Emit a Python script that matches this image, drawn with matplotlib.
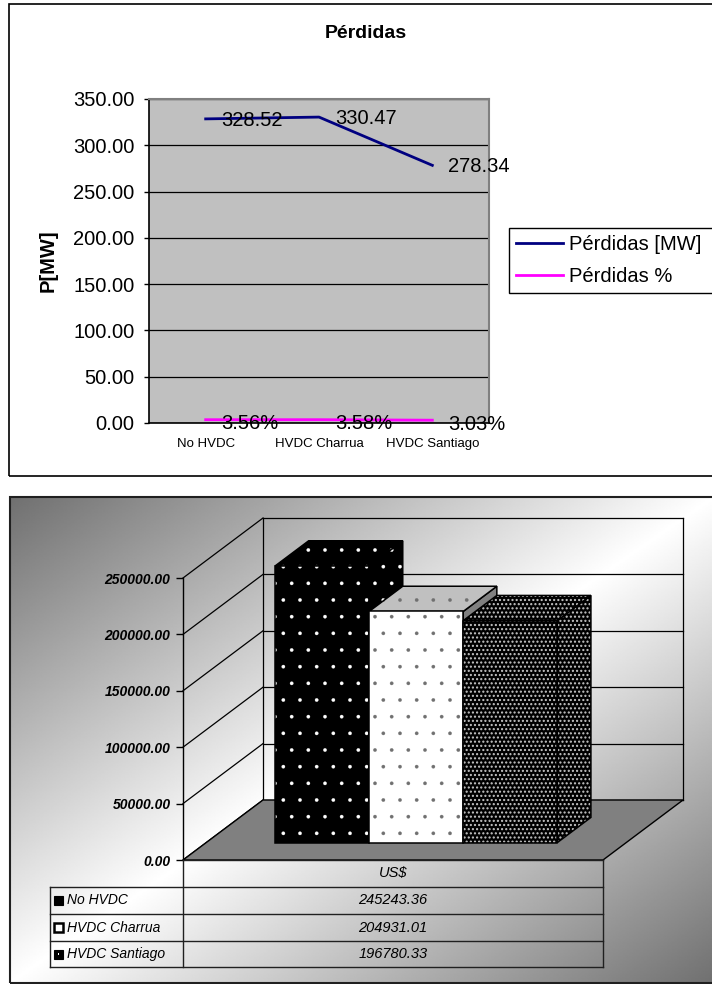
import numpy as np
import matplotlib
matplotlib.use("Agg")
import matplotlib.pyplot as plt
from matplotlib.patches import Rectangle, Polygon
from matplotlib.lines import Line2D
from matplotlib.ticker import FormatStrFormatter

plt.rcParams['font.family'] = ['Liberation Sans', 'DejaVu Sans']
plt.rcParams['hatch.linewidth'] = 0.3

# ---------------- data ----------------
categories = ["No HVDC", "HVDC Charrua", "HVDC Santiago"]
perdidas_mw = [328.52, 330.47, 278.34]
perdidas_pct = [3.56, 3.58, 3.03]
label_mw = "Pérdidas [MW]"
label_pct = "Pérdidas %"
top_title = "Pérdidas"
top_ylabel = "P[MW]"
top_yticks = [0, 50, 100, 150, 200, 250, 300, 350]

cost_series = ["No HVDC", "HVDC Charrua", "HVDC Santiago"]
cost_values = [245243.36, 204931.01, 196780.33]
cost_category = "US$"
bottom_yticks = [0, 50000, 100000, 150000, 200000, 250000]

# ---------------- figure ----------------
W, H = 712, 984
fig = plt.figure(figsize=(W / 100, H / 100), dpi=100)


def fx(x):
    return x / W


def fy(y):
    return 1 - y / H


def box(x0, y0, x1, y1):
    return [fx(x0), fy(y1), (x1 - x0) / W, (y1 - y0) / H]


# ================= TOP CHART =================
fig.add_artist(Rectangle((fx(9), fy(476)), (W + 10 - 9) / W, (476 - 4) / H,
                         transform=fig.transFigure, fill=False, ec='black', lw=1.2))
fig.text(fx(366), fy(34), top_title, ha='center', va='center',
         fontsize=14, fontweight='bold')

ax = fig.add_axes(box(149, 99, 489, 423))
ax.set_facecolor('#C0C0C0')
x = np.arange(len(categories))
ax.plot(x, perdidas_mw, color='#000080', lw=2, label=label_mw, clip_on=False, zorder=3)
ax.plot(x, perdidas_pct, color='#FF00FF', lw=2, label=label_pct, clip_on=False, zorder=3)
ax.set_xlim(-0.5, len(categories) - 0.5)
ax.set_ylim(0, 350)
ax.set_yticks(top_yticks)
ax.yaxis.set_major_formatter(FormatStrFormatter('%.2f'))
ax.set_xticks(x)
ax.set_xticklabels(categories, fontsize=9.5)
ax.tick_params(axis='x', length=0, pad=10.5)
ax.tick_params(axis='y', direction='out', length=3.6, width=1, pad=7, labelsize=14.5)
ax.grid(axis='y', color='black', lw=0.9)
ax.set_axisbelow(True)
for s in ['left', 'bottom']:
    ax.spines[s].set_color('black')
    ax.spines[s].set_linewidth(1.2)
for s in ['top', 'right']:
    ax.spines[s].set_color('#808080')
    ax.spines[s].set_linewidth(1.5)
ax.set_ylabel(top_ylabel, fontsize=14.5, fontweight='bold')
ax.yaxis.set_label_coords(-0.27, 0.5)

for xi, v in zip(x, perdidas_mw):
    ax.annotate(f"{v:.2f}", (xi, v), xytext=(11.5, -1), textcoords='offset points',
                ha='left', va='center', fontsize=14.5, annotation_clip=False, zorder=4)
for xi, v in zip(x, perdidas_pct):
    ax.annotate(f"{v:.2f}%", (xi, v), xytext=(11.5, -3), textcoords='offset points',
                ha='left', va='center', fontsize=14.5, annotation_clip=False, zorder=4)

handles, labels = ax.get_legend_handles_labels()
leg = fig.legend(handles, labels, loc='upper left',
                 bbox_to_anchor=(fx(509), fy(293), (740 - 509) / W, (293 - 228) / H),
                 mode='expand',
                 fontsize=14.5, frameon=True, fancybox=False, edgecolor='black',
                 borderpad=0.35, handlelength=2.35, handletextpad=0.3,
                 labelspacing=0.65, borderaxespad=0)
leg.get_frame().set_linewidth(1)
leg.get_frame().set_facecolor('white')
leg.get_frame().set_alpha(1)

# ================= BOTTOM CHART =================
bg = fig.add_axes(box(10, 497, W + 2, 983))
bg.axis('off')
gx, gy = np.meshgrid(np.linspace(0, 1, 500), np.linspace(0, 1, 350))
t = (gx + gy) / 2
shade = 0.44 + 0.56 * (1 - np.abs(2 * t - 1))
bg.imshow(shade, cmap='gray', vmin=0, vmax=1, aspect='auto', interpolation='bilinear')
fig.add_artist(Rectangle((fx(10), fy(983)), (W + 10 - 10) / W, (983 - 497) / H,
                         transform=fig.transFigure, fill=False, ec='#202020', lw=1.5))

AX_L, AX_T, AX_R, AX_B = 183, 578, 603, 860
ax2 = fig.add_axes(box(AX_L, AX_T, AX_R, AX_B))
YMAX = 250000
ax2.set_xlim(0, 1)
ax2.set_ylim(0, YMAX)
ax2.patch.set_visible(False)
for s in ['top', 'right', 'bottom']:
    ax2.spines[s].set_visible(False)
ax2.spines['left'].set_color('black')
ax2.spines['left'].set_linewidth(1)
ax2.set_xticks([])
ax2.set_yticks(bottom_yticks)
ax2.yaxis.set_major_formatter(FormatStrFormatter('%.2f'))
ax2.tick_params(axis='y', direction='out', length=5, width=1, pad=4, labelsize=10)
for lab in ax2.get_yticklabels():
    lab.set_fontweight('bold')
    lab.set_fontstyle('italic')

# oblique depth projection (depth 0 = front, 1 = back wall)
DEPTH_DX, DEPTH_DY = 80, 60
kx = DEPTH_DX / (AX_R - AX_L) * 1.0
ky = DEPTH_DY / (AX_B - AX_T) * YMAX


def P(xv, yv, d):
    return (xv + d * kx, yv + d * ky)


def seg(p, q, **kw):
    ax2.add_line(Line2D([p[0], q[0]], [p[1], q[1]], clip_on=False, **kw))


line_kw = dict(color='black', lw=0.9, zorder=1)
for yv in bottom_yticks:
    seg(P(0, yv, 1), P(1, yv, 1), **line_kw)      # back-wall gridline
    seg(P(0, yv, 0), P(0, yv, 1), **line_kw)      # side-wall gridline
seg(P(0, 0, 1), P(0, YMAX, 1), **line_kw)
seg(P(1, 0, 1), P(1, YMAX, 1), **line_kw)

floor = Polygon([P(0, 0, 0), P(1, 0, 0), P(1, 0, 1), P(0, 0, 1)], closed=True,
                facecolor='#808080', edgecolor='black', lw=1, zorder=2, clip_on=False)
ax2.add_patch(floor)

n = len(cost_values)
gap = 0.164
bw = (1 - 2 * gap) / n
d0, d1 = 0.29, 0.71
styles = [
    dict(front='#000000', top='#000000', side='#000000', hatch='.', hc='#FFFFFF', hlw=0.2),
    dict(front='#FFFFFF', top='#C0C0C0', side='#808080', hatch='.', hc='#707070', hlw=0.2),
    dict(front='#000000', top='#000000', side='#000000', hatch='....', hc='#C8C8C8', hlw=1.0),
]


def face(verts, fc, hatch, hc, hlw, z):
    with plt.rc_context({'hatch.linewidth': hlw}):
        p = Polygon(verts, closed=True, facecolor=fc, edgecolor=hc, hatch=hatch,
                    lw=0, zorder=z, clip_on=False)
        if hasattr(p, 'set_hatch_linewidth'):
            p.set_hatch_linewidth(hlw)
    ax2.add_patch(p)
    ax2.add_patch(Polygon(verts, closed=True, fill=False, edgecolor='black', lw=1.1,
                          zorder=z + 0.01, clip_on=False))


for i, (v, st) in enumerate(zip(cost_values, styles)):
    l = gap + i * bw
    r = l + bw
    z = 3 + i * 0.1
    side_h = st['hatch'] if st['side'] == '#000000' else None
    face([P(r, 0, d0), P(r, 0, d1), P(r, v, d1), P(r, v, d0)], st['side'], side_h,
         st['hc'], st['hlw'], z)
    face([P(l, v, d0), P(r, v, d0), P(r, v, d1), P(l, v, d1)], st['top'], st['hatch'],
         st['hc'], st['hlw'], z + 0.02)
    face([P(l, 0, d0), P(r, 0, d0), P(r, v, d0), P(l, v, d0)], st['front'], st['hatch'],
         st['hc'], st['hlw'], z + 0.04)

# ---- data table ----
T_LEFT, T_COL, T_RIGHT = 50, 183, 603
rows_y = [860, 887, 914, 941, 967]
tl_kw = dict(color='#202020', lw=1, transform=fig.transFigure)
fig.add_artist(Line2D([fx(T_COL), fx(T_RIGHT)], [fy(rows_y[0])] * 2, **tl_kw))
for yy in rows_y[1:]:
    fig.add_artist(Line2D([fx(T_LEFT), fx(T_RIGHT)], [fy(yy)] * 2, **tl_kw))
fig.add_artist(Line2D([fx(T_LEFT)] * 2, [fy(rows_y[1]), fy(rows_y[-1])], **tl_kw))
fig.add_artist(Line2D([fx(T_COL)] * 2, [fy(rows_y[0]), fy(rows_y[-1])], **tl_kw))
fig.add_artist(Line2D([fx(T_RIGHT)] * 2, [fy(rows_y[0]), fy(rows_y[-1])], **tl_kw))

col_c = (T_COL + T_RIGHT) / 2
fig.text(fx(col_c), fy((rows_y[0] + rows_y[1]) / 2), cost_category, ha='center',
         va='center', fontsize=10.5, fontstyle='italic')
for i, (name, v) in enumerate(zip(cost_series, cost_values)):
    yc = (rows_y[i + 1] + rows_y[i + 2]) / 2
    fig.text(fx(67), fy(yc), name, ha='left', va='center', fontsize=10, fontstyle='italic')
    fig.text(fx(col_c), fy(yc), f"{v:.2f}", ha='center', va='center', fontsize=10.5,
             fontstyle='italic')
    # legend key
    ms = 9
    if i == 0:
        fig.add_artist(Rectangle((fx(54), fy(yc + ms / 2)), ms / W, ms / H,
                                 transform=fig.transFigure, fc='black', ec='black', lw=0.8))
    elif i == 1:
        fig.add_artist(Rectangle((fx(54), fy(yc + ms / 2)), ms / W, ms / H,
                                 transform=fig.transFigure, fc='white', ec='black', lw=1.8))
    else:
        fig.add_artist(Rectangle((fx(54), fy(yc + ms / 2)), ms / W, ms / H,
                                 transform=fig.transFigure, fc='black', ec='black', lw=0.8))
        fig.add_artist(Rectangle((fx(57.5), fy(yc + 1)), 2 / W, 2 / H,
                                 transform=fig.transFigure, fc='white', ec='none'))

fig.savefig("out.png", dpi=100)
